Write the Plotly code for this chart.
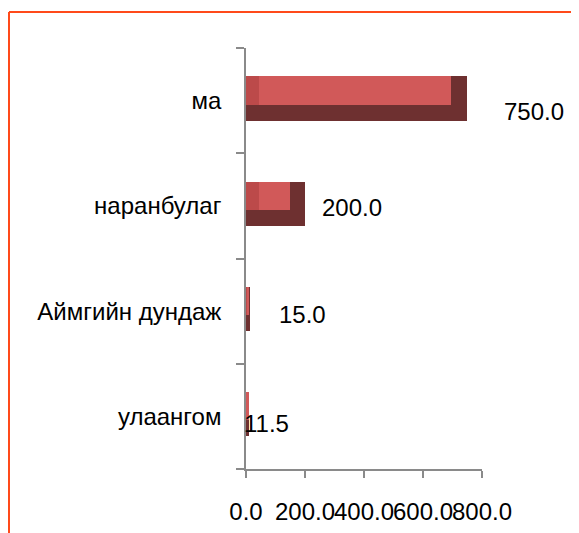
import plotly.graph_objects as go

# ---- data ----
categories = ["улаангом", "Аймгийн дундаж", "наранбулаг", "ма"]
values = [11.5, 15.0, 200.0, 750.0]
value_labels = ["11.5", "15.0", "200.0", "750.0"]
x_tick_values = [0, 200, 400, 600, 800]
x_tick_labels = ["0.0", "200.0", "400.0", "600.0", "800.0"]

# ---- styling ----
# the page body adds an 8px margin, so the figure is sized/offset for it
FONT = "Liberation Sans, Arial, sans-serif"
W, H = 571, 525
ML, MR, MT, MB = 238, 97, 40, 64
BAR_W = 0.42
BAR_SHIFT = 0.02         # bars sit slightly above the band centre
TOP_FRAC = 0.64          # fraction of bar height occupied by lit top face
DARK = "#6E3030"
LEFT_BEVEL = "#BC4A4A"
FACE = "#D15959"

bevel_l = [min(44.0, 0.22 * v) for v in values]
bevel_r = [min(54.0, 0.26 * v) for v in values]

top_w = BAR_W * TOP_FRAC
top_off = BAR_W / 2 - top_w + BAR_SHIFT

fig = go.Figure()
fig.add_trace(go.Bar(
    y=categories, x=values, orientation="h",
    width=BAR_W, offset=-BAR_W / 2 + BAR_SHIFT,
    marker=dict(color=DARK, line=dict(width=0)),
    hoverinfo="skip", showlegend=False))
fig.add_trace(go.Bar(
    y=categories, x=[v - r for v, r in zip(values, bevel_r)], orientation="h",
    width=top_w, offset=top_off,
    marker=dict(color=LEFT_BEVEL, line=dict(width=0)),
    hoverinfo="skip", showlegend=False))
fig.add_trace(go.Bar(
    y=categories, x=[v - l - r for v, l, r in zip(values, bevel_l, bevel_r)],
    base=bevel_l, orientation="h",
    width=top_w, offset=top_off,
    marker=dict(color=FACE, line=dict(width=0)),
    hoverinfo="skip", showlegend=False))

# data labels (Excel-style placement)
label_xshift = [17, 52, 46.5, 66.75]
label_yshift = [-7, -3, -1.5, -11]
for c, v, t, dx, dy in zip(categories, values, value_labels, label_xshift, label_yshift):
    fig.add_annotation(x=v, y=c, text=t, showarrow=False,
                       xanchor="center", yanchor="middle",
                       xshift=dx, yshift=dy,
                       font=dict(family=FONT, size=24, color="#000000"))

# orange frame
pw, ph = W - ML - MR, H - MT - MB
x_left = (1 - ML) / pw
y_top = (H - MB - 4) / ph
fig.add_shape(type="line", xref="paper", yref="paper",
              x0=x_left, x1=3, y0=y_top, y1=y_top,
              line=dict(color="#FF4A1A", width=2))
fig.add_shape(type="line", xref="paper", yref="paper",
              x0=x_left, x1=x_left, y0=-2, y1=y_top,
              line=dict(color="#FF4A1A", width=2))

fig.update_layout(
    width=W, height=H,
    margin=dict(l=ML, r=MR, t=MT, b=MB, pad=0, autoexpand=False),
    paper_bgcolor="white", plot_bgcolor="white",
    barmode="overlay", bargap=0,
    font=dict(family=FONT, size=24, color="#000000"),
    xaxis=dict(range=[0, 800], tickvals=x_tick_values, ticktext=x_tick_labels,
               tickangle=0, showgrid=False, zeroline=False, automargin=False,
               showline=True, linecolor="#8A8A8A", linewidth=1.5,
               ticks="outside", ticklen=7, tickcolor="#8A8A8A", tickwidth=1.5,
               ticklabelstandoff=13,
               tickfont=dict(family=FONT, size=24, color="#000000")),
    yaxis=dict(type="category", categoryorder="array", categoryarray=categories,
               showgrid=False, zeroline=False, automargin=False,
               showline=True, linecolor="#8A8A8A", linewidth=1.5,
               ticks="outside", ticklen=8, tickcolor="#8A8A8A", tickwidth=1.5,
               tickson="boundaries", ticklabelstandoff=18,
               tickfont=dict(family=FONT, size=24, color="#000000")),
)

fig.write_html("out.html")
